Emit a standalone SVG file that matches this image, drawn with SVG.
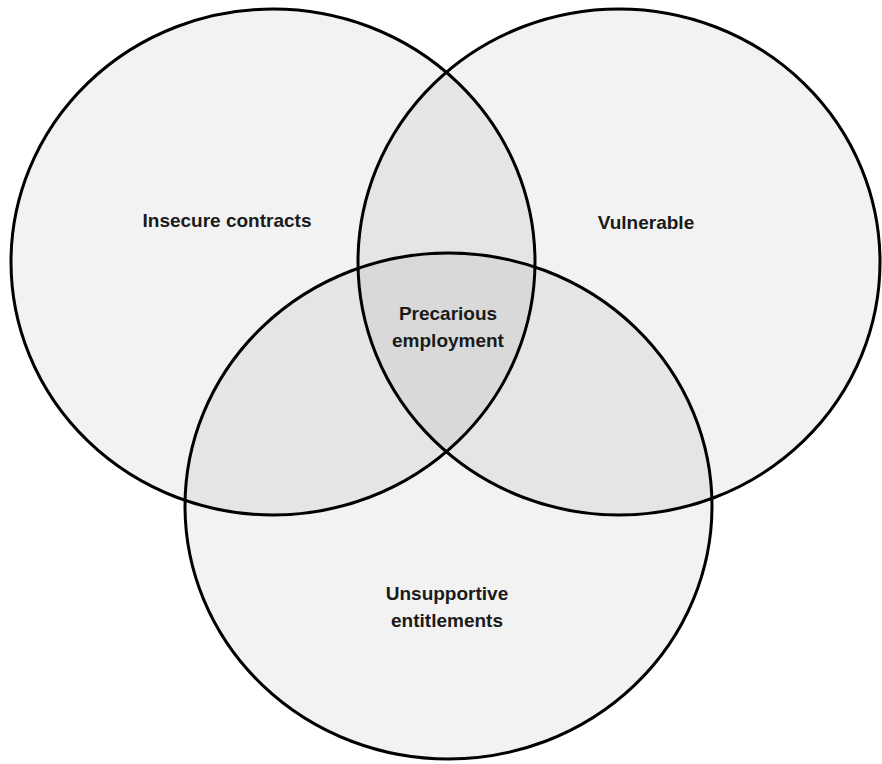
<svg xmlns="http://www.w3.org/2000/svg" width="882" height="764" viewBox="0 0 882 764">
<style>
.c{fill:#000;fill-opacity:0.05;stroke:#000;stroke-width:3}
.t{font-family:"Liberation Sans",Arial,sans-serif;font-weight:bold;font-size:19px;fill:#1a1a1a;text-anchor:middle}
</style>
<rect width="882" height="764" fill="#fff"/>
<g id="insecure-contracts">
<ellipse class="c" cx="273" cy="262" rx="262" ry="253"/>
<text class="t" x="227" y="227">Insecure contracts</text>
</g>
<g id="vulnerable">
<ellipse class="c" cx="619" cy="262" rx="261" ry="253"/>
<text class="t" x="646" y="229">Vulnerable</text>
</g>
<g id="unsupportive-entitlements">
<ellipse class="c" cx="448.5" cy="506" rx="263.5" ry="253"/>
<text class="t" x="447" y="600">Unsupportive</text>
<text class="t" x="447" y="627">entitlements</text>
</g>
<g id="precarious-employment">
<text class="t" x="448" y="320">Precarious</text>
<text class="t" x="448" y="347">employment</text>
</g>
<g id="connectors"/>
</svg>
